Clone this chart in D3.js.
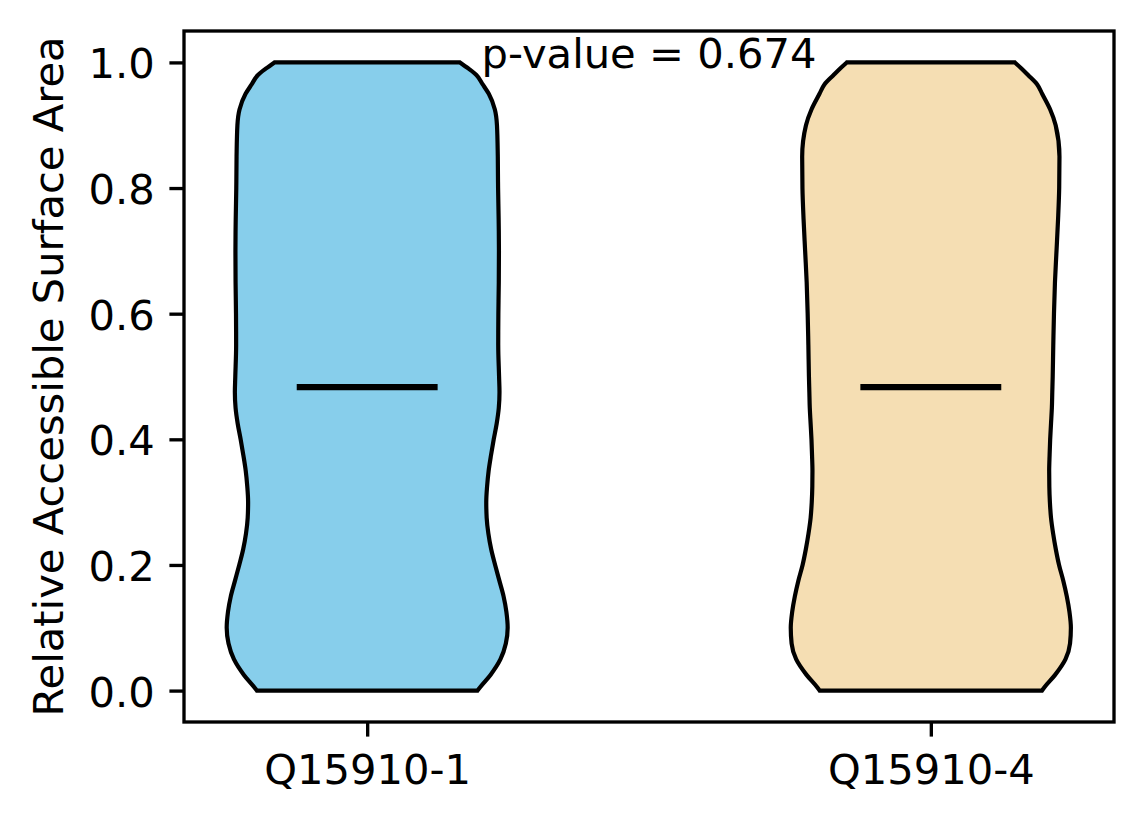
<!DOCTYPE html>
<html>
<head>
<meta charset="utf-8">
<script src="https://cdn.jsdelivr.net/npm/d3@7/dist/d3.min.js"></script>
<style>
  html, body { margin: 0; padding: 0; background: #ffffff; }
  svg { display: block; }
  text { font-family: "DejaVu Sans", sans-serif; fill: #000; }
</style>
</head>
<body>
<svg id="chart" width="1144" height="824"></svg>
<script>
// ---- data ----
const categories = ["Q15910-1", "Q15910-4"];
const fillColors = ["#87CEEB", "#F5DEB3"];
const medians = [0.483, 0.483];
const pValueText = "p-value = 0.674";
const yTicks = [0.0, 0.2, 0.4, 0.6, 0.8, 1.0];
const yLabel = "Relative Accessible Surface Area";

// y levels at which the violin half-widths were read
const levels = [0, 0.005, 0.025, 0.05, 0.075, 0.10, 0.125, 0.15, 0.175, 0.20, 0.225, 0.25,
  0.275, 0.30, 0.325, 0.35, 0.375, 0.40, 0.425, 0.45, 0.475, 0.50, 0.55, 0.60, 0.65,
  0.70, 0.75, 0.80, 0.85, 0.90, 0.925, 0.95, 0.965, 0.98, 0.99, 1.0];
// relative density (1 = widest part of the violin)
const densityQ15910_1 = [0.783, 0.80, 0.875, 0.946, 0.984, 0.997, 0.988, 0.968, 0.938, 0.908,
  0.880, 0.860, 0.848, 0.845, 0.851, 0.862, 0.879, 0.898, 0.919, 0.934, 0.939, 0.936,
  0.930, 0.931, 0.934, 0.935, 0.933, 0.929, 0.927, 0.921, 0.906, 0.863, 0.82, 0.775, 0.72, 0.658];
const densityQ15910_4 = [0.789, 0.805, 0.882, 0.956, 0.988, 0.994, 0.984, 0.965, 0.940, 0.910,
  0.887, 0.868, 0.853, 0.845, 0.841, 0.840, 0.843, 0.847, 0.853, 0.859, 0.862, 0.865,
  0.869, 0.874, 0.881, 0.892, 0.903, 0.911, 0.913, 0.886, 0.847, 0.79, 0.755, 0.69, 0.645, 0.596];
const densities = [densityQ15910_1, densityQ15910_4];

// ---- layout ----
const svg = d3.select("#chart");
const pLeft = 184, pRight = 1114, pTop = 31, pBottom = 722;
const fs = 41.67;           // 10pt at 300 dpi
const spineW = 3.33, tickLen = 14.6, tickPad = 14.6;

const x = d3.scaleLinear().domain([0.675, 2.325]).range([pLeft, pRight]);
const y = d3.scaleLinear().domain([-0.05, 1.05]).range([pBottom, pTop]);
const halfWidth = 0.25; // violin half width in x units

// ---- violins ----
categories.forEach((cat, i) => {
  const pos = i + 1;
  const pts = levels.map((v, k) => ({ v, w: densities[i][k] }));
  const area = d3.area()
    .y(d => y(d.v))
    .x0(d => x(pos - d.w * halfWidth))
    .x1(d => x(pos + d.w * halfWidth))
    .curve(d3.curveMonotoneY);
  svg.append("path")
    .attr("d", area(pts))
    .attr("fill", fillColors[i])
    .attr("stroke", "#000")
    .attr("stroke-width", 4.2)
    .attr("stroke-linejoin", "miter");
  // median line
  svg.append("line")
    .attr("x1", x(pos - 0.125)).attr("x2", x(pos + 0.125))
    .attr("y1", y(medians[i])).attr("y2", y(medians[i]))
    .attr("stroke", "#000").attr("stroke-width", 6.25);
});

// ---- axes ----
const yAxis = d3.axisLeft(y).tickValues(yTicks).tickFormat(d3.format(".1f"))
  .tickSize(tickLen).tickPadding(tickPad);
const gy = svg.append("g").attr("transform", `translate(${pLeft},0)`).call(yAxis);
gy.select(".domain").remove();
gy.selectAll(".tick line").attr("stroke", "#000").attr("stroke-width", spineW);
gy.selectAll(".tick text").attr("font-size", fs).attr("font-family", "DejaVu Sans")
  .attr("dy", "0.37em").attr("fill", "#000");

const xAxis = d3.axisBottom(x).tickValues([1, 2]).tickFormat((d, i) => categories[i])
  .tickSize(tickLen).tickPadding(tickPad);
const gx = svg.append("g").attr("transform", `translate(0,${pBottom})`).call(xAxis);
gx.select(".domain").remove();
gx.selectAll(".tick line").attr("stroke", "#000").attr("stroke-width", spineW);
gx.selectAll(".tick text").attr("font-size", fs).attr("font-family", "DejaVu Sans")
  .attr("dy", null).attr("y", 783.5 - pBottom).attr("fill", "#000");

// spines
svg.append("rect")
  .attr("x", pLeft).attr("y", pTop).attr("width", pRight - pLeft).attr("height", pBottom - pTop)
  .attr("fill", "none").attr("stroke", "#000").attr("stroke-width", spineW);

// y label
svg.append("text")
  .attr("transform", `translate(63.3,${(pTop + pBottom) / 2}) rotate(-90)`)
  .attr("text-anchor", "middle")
  .attr("font-size", fs)
  .text(yLabel);

// p-value annotation
svg.append("text")
  .attr("x", x(1.5)).attr("y", 67.7)
  .attr("text-anchor", "middle")
  .attr("font-size", fs)
  .text(pValueText);
</script>
</body>
</html>
